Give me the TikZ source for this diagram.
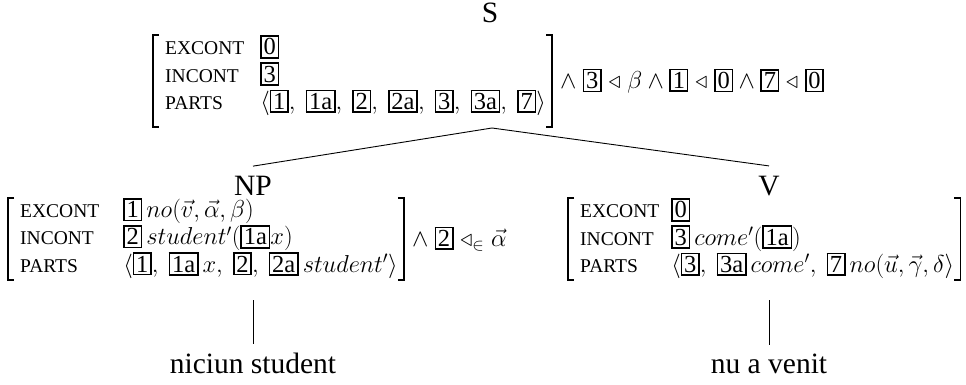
\RequirePackage{fix-cm}
\documentclass[tikz,border=0pt]{standalone}
\usepackage{amsmath,amssymb}
\usepackage{fontspec}
\setmainfont{Liberation Serif}
\setlength\fboxsep{1.8pt}
\setlength\fboxrule{1.6pt}
\newcommand\bx[1]{\fbox{#1}}
\newcommand\cm{,\hspace{6pt}}
\newcommand\fl[1]{{\fontsize{19.5}{25}\selectfont #1}}
\newcommand\avmfont{\fontsize{24.5}{25}\selectfont}
\newcommand\treefont{\fontsize{29.5}{30}\selectfont}
\tikzset{
  avm/.style={inner xsep=0pt, inner ysep=0pt, font=\avmfont},
  conj/.style={inner sep=0pt, font=\avmfont, anchor=west},
  brk/.style={line width=1.6pt},
  tlabel/.style={font=\treefont, inner sep=0pt},
  edge/.style={line width=0.9pt},
}
% #1 node, #2 extra depth at bottom
\newcommand\brackets[2]{%
  \draw[brk] ([xshift=-6pt]#1.north west) -- ([xshift=-12pt]#1.north west) -- ([xshift=-12pt,yshift=-#2]#1.south west) -- ([xshift=-6pt,yshift=-#2]#1.south west);
  \draw[brk] ([xshift=0pt]#1.north east) -- ([xshift=6pt]#1.north east) -- ([xshift=6pt,yshift=-#2]#1.south east) -- ([xshift=0pt,yshift=-#2]#1.south east);
}
\begin{document}
\begin{tikzpicture}[x=1pt,y=-1pt]
\useasboundingbox[fill=white] (0,0) rectangle (966,385);
% S
\node[tlabel] (s) at (490,13) {S};
\node[avm, anchor=north east] (savm) at (546,35) {%
\begin{tabular}{@{}l@{\hspace{16pt}}l@{}}
\fl{EXCONT} & \bx{0}\\
\fl{INCONT} & \bx{3}\\
\fl{PARTS} & $\left\langle\bx{1}\cm \bx{1a}\cm \bx{2}\cm \bx{2a}\cm \bx{3}\cm \bx{3a}\cm \bx{7}\right\rangle$
\end{tabular}};
\brackets{savm}{10pt}
\node[conj] (sc) at (560,81) {$\wedge\ \bx{3} \mathrel{\triangleleft} \beta \wedge \bx{1} \mathrel{\triangleleft} \bx{0} \wedge \bx{7} \mathrel{\triangleleft} \bx{0}$};
\coordinate (apex) at (492,128);
% NP
\node[tlabel] (np) at (253,186) {NP};
\node[avm, anchor=north west] (npavm) at (20,198) {%
\begin{tabular}{@{}l@{\hspace{24pt}}l@{}}
\fl{EXCONT} & $\bx{1}\,no(\vec{v},\vec{\alpha},\beta)$\\
\fl{INCONT} & $\bx{2}\,student'(\bx{1a}x)$\\
\fl{PARTS} & $\left\langle\bx{1}\cm \bx{1a}\,x\cm \bx{2}\cm \bx{2a}\,student'\right\rangle$
\end{tabular}};
\brackets{npavm}{0pt}
\node[conj] (npc) at ([xshift=14pt]npavm.east) {$\wedge\ \bx{2} \mathrel{\triangleleft_{\in}} \vec{\alpha}$};
% V
\node[tlabel] (v) at (769,186) {V};
\node[avm, anchor=north west] (vavm) at (580,198) {%
\begin{tabular}{@{}l@{\hspace{12pt}}l@{}}
\fl{EXCONT} & $\bx{0}$\\
\fl{INCONT} & $\bx{3}\,come'(\bx{1a})$\\
\fl{PARTS} & $\left\langle\bx{3}\cm \bx{3a}\,come'\cm \bx{7}\,no(\vec{u},\vec{\gamma},\delta\right\rangle$
\end{tabular}};
\brackets{vavm}{0pt}
% leaves
\node[tlabel, anchor=base] (l1) at (253,373) {niciun student};
\node[tlabel, anchor=base] (l2) at (769,373) {nu a venit};
\coordinate (np1) at (253,300);
\coordinate (v1) at (769,300);
% edges
\draw[edge] (apex) -- ([yshift=10pt]np.north);
\draw[edge] (apex) -- ([yshift=10pt]v.north);
\draw[edge] (np1) -- ([yshift=8pt]l1.north);
\draw[edge] (v1) -- ([yshift=8pt]l2.north);
\end{tikzpicture}
\end{document}
